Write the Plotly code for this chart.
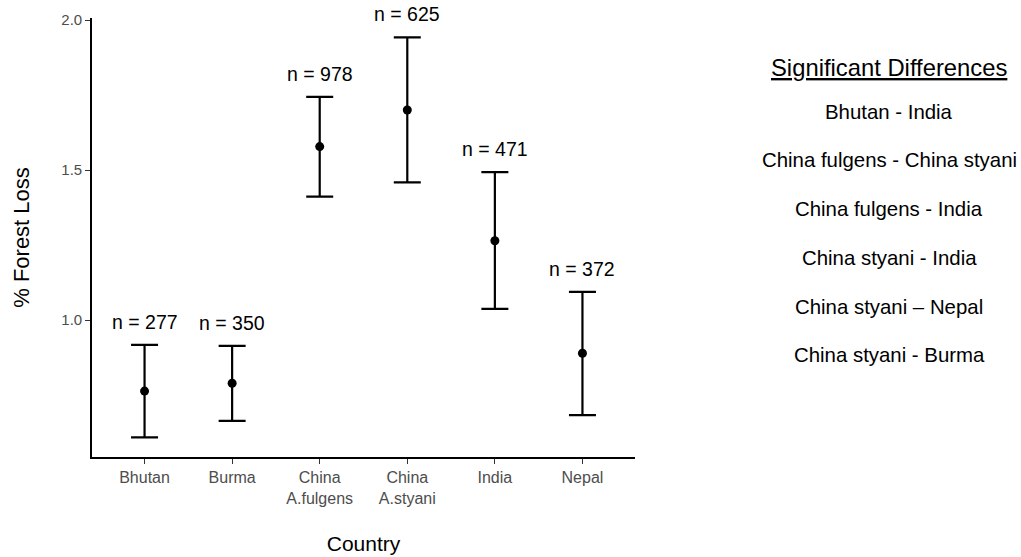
import plotly.graph_objects as go

# ---- data ----
categories = ["Bhutan", "Burma", "China<br>A.fulgens", "China<br>A.styani", "India", "Nepal"]
means = [0.763, 0.789, 1.578, 1.700, 1.264, 0.889]
upper = [0.917, 0.914, 1.744, 1.942, 1.493, 1.094]
lower = [0.609, 0.664, 1.411, 1.459, 1.037, 0.683]
n_labels = ["n = 277", "n = 350", "n = 978", "n = 625", "n = 471", "n = 372"]
y_ticks = [1.0, 1.5, 2.0]
sig_title = "Significant Differences"
sig_pairs = [
    "Bhutan - India",
    "China fulgens - China styani",
    "China fulgens - India",
    "China styani - India",
    "China styani \u2013 Nepal",
    "China styani - Burma",
]

W, H = 1021, 557
ML, MR, MT, MB = 92, 386, 18, 100
FONT = "Liberation Sans, Arial, Helvetica, sans-serif"

err_plus = [u - m for u, m in zip(upper, means)]
err_minus = [m - l for m, l in zip(means, lower)]
xs = list(range(len(categories)))

fig = go.Figure()
fig.add_trace(go.Scatter(
    x=xs, y=means, mode="markers",
    marker=dict(color="black", size=9),
    error_y=dict(type="data", symmetric=False, array=err_plus, arrayminus=err_minus,
                 color="black", thickness=2.2, width=13.5),
    showlegend=False, hoverinfo="skip",
))

# n labels above the upper caps
for x, u, t in zip(xs, upper, n_labels):
    fig.add_annotation(x=x, y=u, text=t, showarrow=False, xref="x", yref="y",
                       yanchor="middle", yshift=23,
                       font=dict(family=FONT, size=19.5, color="black"))

# right-hand text panel (paper coordinates from pixel layout)
plot_h = H - MT - MB
plot_w = W - ML - MR
def px_to_paper_y(py):
    return (H - MB - py) / plot_h
def px_to_paper_x(px):
    return (px - ML) / plot_w

cx = px_to_paper_x(889)
fig.add_annotation(x=cx, y=px_to_paper_y(67), xref="paper", yref="paper",
                   text="<u>" + sig_title + "</u>", showarrow=False,
                   xanchor="center", yanchor="middle",
                   font=dict(family=FONT, size=23.8, color="black"))
for i, s in enumerate(sig_pairs):
    fig.add_annotation(x=cx, y=px_to_paper_y(111.7 + i * 48.7), xref="paper", yref="paper",
                       text=s, showarrow=False, xanchor="center", yanchor="middle",
                       font=dict(family=FONT, size=20.4, color="black"))

y_top = 2.0 + 2 / 300
y_bot = y_top - plot_h / 300

fig.update_layout(
    width=W, height=H,
    margin=dict(l=ML, r=MR, t=MT, b=MB, pad=0, autoexpand=False),
    plot_bgcolor="white", paper_bgcolor="white",
    font=dict(family=FONT),
    xaxis=dict(
        range=[-0.6, len(categories) - 0.4],
        tickmode="array", tickvals=xs, ticktext=categories,
        showgrid=False, zeroline=False, automargin=False,
        showline=True, linecolor="black", linewidth=1.6,
        ticks="outside", ticklen=5, tickwidth=1.3, tickcolor="#333333",
        tickfont=dict(family=FONT, size=16, color="#4d4d4d"),
        title=dict(text="Country", font=dict(family=FONT, size=21, color="black"), standoff=31),
    ),
    yaxis=dict(
        range=[y_bot, y_top],
        tickmode="array", tickvals=y_ticks, ticktext=[f"{v:.1f}" for v in y_ticks],
        showgrid=False, zeroline=False, automargin=False,
        showline=True, linecolor="black", linewidth=1.6,
        ticks="outside", ticklen=5, tickwidth=1.3, tickcolor="#333333",
        tickfont=dict(family=FONT, size=15, color="#4d4d4d"),
        title=dict(text="% Forest Loss", font=dict(family=FONT, size=22, color="black"), standoff=26),
    ),
)

fig.write_html("out.html")
